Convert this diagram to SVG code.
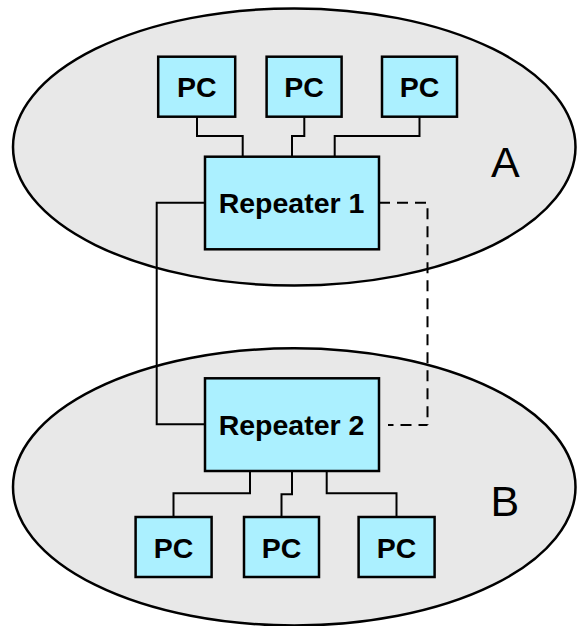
<svg xmlns="http://www.w3.org/2000/svg" width="577" height="626" viewBox="0 0 577 626">
<style>
.zone{fill:#e8e8e8;stroke:#000;stroke-width:2.5}
.box{fill:#abf0ff;stroke:#000;stroke-width:2.5}
.lbl{font-family:"Liberation Sans",Arial,sans-serif;font-weight:bold;font-size:28.5px;fill:#000;text-anchor:middle}
.zl{font-family:"Liberation Sans",Arial,sans-serif;font-size:43px;fill:#000}
.wire{fill:none;stroke:#000;stroke-width:2}
.dash{fill:none;stroke:#000;stroke-width:2;stroke-dasharray:11 7}
</style>
<g id="zoneA">
<ellipse class="zone" cx="294.25" cy="147" rx="281.25" ry="138.6"/>
<text class="zl" x="491" y="176.7">A</text>
</g>
<g id="zoneB">
<ellipse class="zone" cx="294.25" cy="486.9" rx="281.25" ry="138.6"/>
<text class="zl" x="490.5" y="515.7">B</text>
</g>
<g id="connectors">
<path class="wire" d="M197,117 V136 H242.7 V157"/>
<path class="wire" d="M304.3,117 V136 H292 V157"/>
<path class="wire" d="M419.5,117 V136 H334.7 V157"/>
<path class="wire" d="M205,202.7 H156.7 V424.3 H205"/>
<path class="dash" d="M379,202.7 H427.5 V425"/>
<path class="dash" d="M427.5,425 H388" stroke-dashoffset="2"/>
<path class="wire" d="M250,471 V493.3 H173.5 V517"/>
<path class="wire" d="M292,471 V494.3 H281.5 V517"/>
<path class="wire" d="M326.7,471 V493.3 H396.5 V517"/>
</g>
<g id="pcA1"><rect class="box" x="158.2" y="56.7" width="77" height="60"/><text class="lbl" x="196.7" y="97.3">PC</text></g>
<g id="pcA2"><rect class="box" x="266.6" y="56.7" width="75" height="60"/><text class="lbl" x="304.1" y="97.3">PC</text></g>
<g id="pcA3"><rect class="box" x="382" y="56.7" width="75" height="60"/><text class="lbl" x="419.5" y="97.3">PC</text></g>
<g id="repeater1"><rect class="box" x="205" y="156.7" width="174" height="92.6"/><text class="lbl" x="291.5" y="213.3">Repeater 1</text></g>
<g id="repeater2"><rect class="box" x="205" y="378.3" width="174" height="92.7"/><text class="lbl" x="291.5" y="435">Repeater 2</text></g>
<g id="pcB1"><rect class="box" x="135.6" y="517" width="76" height="60"/><text class="lbl" x="173.6" y="558">PC</text></g>
<g id="pcB2"><rect class="box" x="244" y="517" width="75" height="60"/><text class="lbl" x="281.5" y="558">PC</text></g>
<g id="pcB3"><rect class="box" x="358.6" y="517" width="76" height="60"/><text class="lbl" x="396.6" y="558">PC</text></g>
</svg>
